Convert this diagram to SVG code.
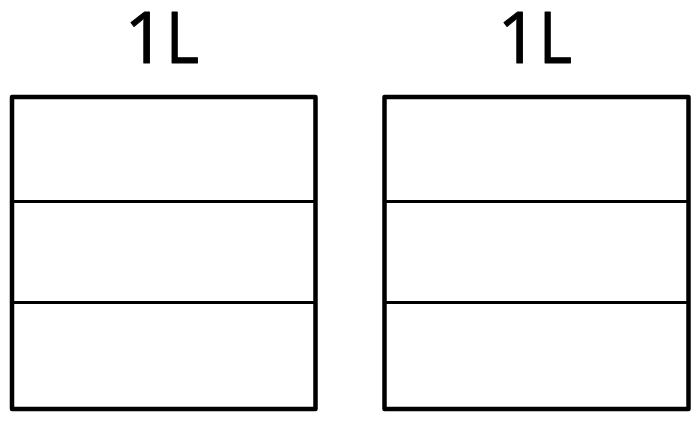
<svg xmlns="http://www.w3.org/2000/svg" width="700" height="423" viewBox="0 0 700 423">
<style>
.frame{fill:none;stroke:#000;stroke-width:4.5;stroke-linejoin:round}
.div{stroke:#000;stroke-width:3}
.lbl{font-family:"Open Sans","Noto Sans",sans-serif;font-size:71px;fill:#000;stroke:#000;stroke-width:1;stroke-linejoin:round}
</style>
<rect width="700" height="423" fill="#fff"/>
<g id="container-left">
<text class="lbl" x="124.5" y="63">1</text>
<text class="lbl" transform="translate(165.7,63) scale(0.9,1)" x="0" y="0">L</text>
<rect class="frame" x="12" y="97" width="303.5" height="312"/>
</g>
<g id="container-right">
<text class="lbl" x="497.5" y="63">1</text>
<text class="lbl" transform="translate(538.7,63) scale(0.9,1)" x="0" y="0">L</text>
<rect class="frame" x="384.5" y="97" width="304" height="312"/>
</g>
<g id="connectors">
<line class="div" x1="12" y1="201.5" x2="315.5" y2="201.5"/>
<line class="div" x1="12" y1="302.5" x2="315.5" y2="302.5"/>
<line class="div" x1="384.5" y1="201.5" x2="688.5" y2="201.5"/>
<line class="div" x1="384.5" y1="302.5" x2="688.5" y2="302.5"/>
</g>
</svg>
